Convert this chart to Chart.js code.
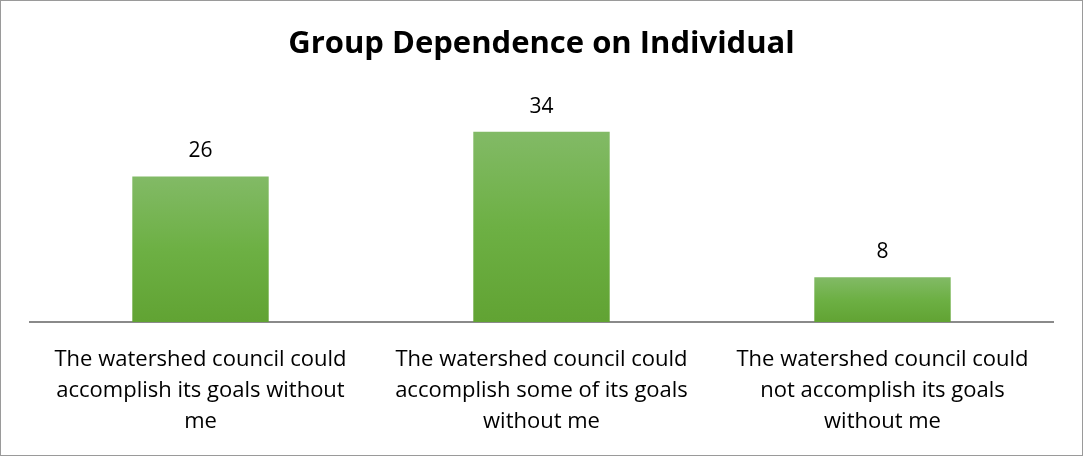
<!DOCTYPE html>
<html>
<head>
<meta charset="utf-8">
<script src="https://cdn.jsdelivr.net/npm/chart.js@4.4.1/dist/chart.umd.min.js"></script>
<style>
  html, body { margin: 0; padding: 0; background: #fff; }
  #wrap { width: 1083px; height: 456px; box-sizing: border-box; border: 1px solid #9a9a9a; position: relative; }
</style>
</head>
<body>
<div id="wrap"><canvas id="c"></canvas></div>
<script>
const chartTitle = "Group Dependence on Individual";
const categories = [
  ["The watershed council could", "accomplish its goals without", "me"],
  ["The watershed council could", "accomplish some of its goals", "without me"],
  ["The watershed council could", "not accomplish its goals", "without me"]
];
const values = [26, 34, 8];
const yMin = 0;
const yMax = 40;

const FONT = "'Open Sans', 'Liberation Sans', sans-serif";

const barGradient = (context) => {
  const chart = context.chart;
  if (!chart.chartArea || context.dataIndex === undefined) return '#6fad44';
  const y = chart.scales.y;
  const top = y.getPixelForValue(context.raw);
  const bottom = y.getPixelForValue(0);
  const g = chart.ctx.createLinearGradient(0, top, 0, bottom);
  g.addColorStop(0, '#82ba66');
  g.addColorStop(0.5, '#6db044');
  g.addColorStop(1, '#61a333');
  return g;
};

const valueLabels = {
  id: 'valueLabels',
  afterDatasetsDraw(chart) {
    const ctx = chart.ctx;
    const meta = chart.getDatasetMeta(0);
    ctx.save();
    ctx.font = "21px " + FONT;
    ctx.fillStyle = '#000';
    ctx.textAlign = 'center';
    ctx.textBaseline = 'middle';
    meta.data.forEach((bar, i) => {
      ctx.fillText(String(values[i]), bar.x, bar.y - 25);
    });
    ctx.restore();
  }
};

new Chart(document.getElementById('c'), {
  type: 'bar',
  data: {
    labels: categories,
    datasets: [{
      data: values,
      backgroundColor: barGradient,
      borderWidth: 0,
      categoryPercentage: 1.0,
      barPercentage: 0.4
    }]
  },
  options: {
    responsive: true,
    maintainAspectRatio: false,
    animation: false,
    events: [],
    layout: { padding: { left: 29, right: 29, top: 0, bottom: -4 } },
    plugins: {
      legend: { display: false },
      tooltip: { enabled: false },
      title: {
        display: true,
        text: chartTitle,
        color: '#000',
        font: { family: FONT, size: 31, weight: 'bold', lineHeight: 1.2 },
        padding: { top: 25, bottom: 35 }
      }
    },
    scales: {
      x: {
        grid: { display: false, drawTicks: false },
        border: { display: true, color: '#8a8a8a', width: 2 },
        ticks: {
          color: '#000',
          font: { family: FONT, size: 22, lineHeight: 1.41 },
          padding: 22,
          maxRotation: 0,
          autoSkip: false
        }
      },
      y: {
        display: false,
        min: yMin,
        max: yMax
      }
    }
  },
  plugins: [valueLabels]
});
</script>
</body>
</html>
